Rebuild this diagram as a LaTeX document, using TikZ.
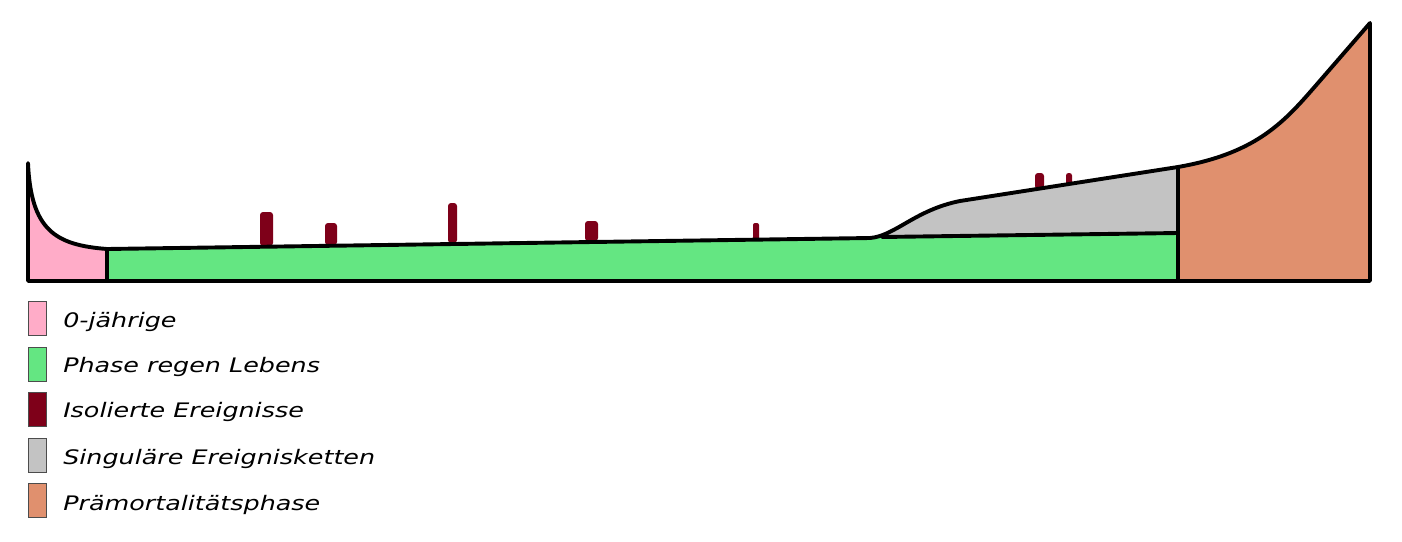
\documentclass[tikz,border=0pt]{standalone}
\usepackage{fontspec}
\newfontfamily\legendfont{DejaVu Sans}
\definecolor{cpink}{HTML}{FFACC8}
\definecolor{cgreen}{HTML}{64E682}
\definecolor{cred}{HTML}{7E0019}
\definecolor{cgray}{HTML}{C3C3C3}
\definecolor{corange}{HTML}{E0906E}
\tikzset{
  outline/.style={line width=3.9pt, line join=round, line cap=round},
  event/.style={fill=cred, rounded corners=3pt},
  legbox/.style={draw=black!70, line width=0.8pt, minimum width=18pt, minimum height=34pt, inner sep=0pt},
  legtext/.style={anchor=base west, inner sep=0pt, font=\legendfont\itshape\fontsize{20}{24}\selectfont, xscale=1.27},
}
\begin{document}
\begin{tikzpicture}[x=1pt,y=-1pt]
\useasboundingbox (0,0) rectangle (1402,541);
% fills
\fill[cpink] (28,281) -- (28,163) .. controls (31,230) and (55,245) .. (107,249) -- (107,281) -- cycle;
\fill[cgreen] (107,281) -- (107,249) -- (870,238) -- (1178,233) -- (1178,281) -- cycle;
\fill[cgray] (870,238) .. controls (895,236) and (915,210) .. (960,201) -- (1178,167) -- (1178,233) -- cycle;
\fill[corange] (1178,281) -- (1178,167) .. controls (1258,153) and (1285,121) .. (1318,83) -- (1370,23) -- (1370,281) -- cycle;
% isolated events
\fill[event] (260,212) rectangle (273,246);
\fill[event] (325,223) rectangle (337,245);
\fill[event] (448,203) rectangle (457,243);
\fill[event] (585,221) rectangle (598,241);
\fill[event,rounded corners=2pt] (753,223) rectangle (759,240);
\fill[event] (1035,173) rectangle (1044,189);
\fill[event,rounded corners=2.5pt] (1066,173) rectangle (1072,185);
% outlines
\draw[outline] (28,163) .. controls (31,230) and (55,245) .. (107,249) -- (870,238)
  .. controls (895,236) and (915,210) .. (960,201) -- (1178,167)
  .. controls (1258,153) and (1285,121) .. (1318,83) -- (1370,23) -- (1370,281) -- (28,281) -- cycle;
\draw[outline] (107,249) -- (107,281);
\draw[outline] (1178,167) -- (1178,281);
\draw[outline] (882,237) -- (1178,233);
% legend
\node[legbox, fill=cpink]   (b1) at (37,318.5) {};
\node[legbox, fill=cgreen]  (b2) at (37,364) {};
\node[legbox, fill=cred]    (b3) at (37,409) {};
\node[legbox, fill=cgray]   (b4) at (37,455) {};
\node[legbox, fill=corange] (b5) at (37,500) {};
\node[legtext] (t1) at (63,327) {0-jährige};
\node[legtext] (t2) at (63,372) {Phase regen Lebens};
\node[legtext] (t3) at (63,417) {Isolierte Ereignisse};
\node[legtext] (t4) at (63,464) {Singuläre Ereignisketten};
\node[legtext] (t5) at (63,510) {Prämortalitätsphase};
\end{tikzpicture}
\end{document}
